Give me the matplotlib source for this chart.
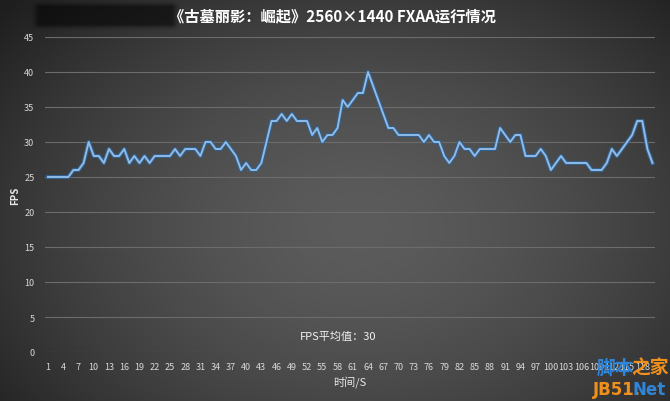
import numpy as np
import matplotlib
matplotlib.use('Agg')
import matplotlib.pyplot as plt
import matplotlib.patheffects as pe

plt.rcParams['font.family'] = ['Noto Sans CJK SC', 'DejaVu Sans']

# ---- data ----
seconds = list(range(1, 121))
fps = [25, 25, 25, 25, 25, 26, 26, 27, 30, 28,
       28, 27, 29, 28, 28, 29, 27, 28, 27, 28,
       27, 28, 28, 28, 28, 29, 28, 29, 29, 29,
       28, 30, 30, 29, 29, 30, 29, 28, 26, 27,
       26, 26, 27, 30, 33, 33, 34, 33, 34, 33,
       33, 33, 31, 32, 30, 31, 31, 32, 36, 35,
       36, 37, 37, 40, 38, 36, 34, 32, 32, 31,
       31, 31, 31, 31, 30, 31, 30, 30, 28, 27,
       28, 30, 29, 29, 28, 29, 29, 29, 29, 32,
       31, 30, 31, 31, 28, 28, 28, 29, 28, 26,
       27, 28, 27, 27, 27, 27, 27, 26, 26, 26,
       27, 29, 28, 29, 30, 31, 33, 33, 29, 27]
y_ticks = [0, 5, 10, 15, 20, 25, 30, 35, 40, 45]
x_tick_labels = [str(s) for s in seconds[::3]]
title = '《古墓丽影：崛起》2560×1440 FXAA运行情况'
avg_label = 'FPS平均值：30'
x_label = '时间/S'
y_label = 'FPS'

W, H = 670, 402
fig = plt.figure(figsize=(W / 100, H / 100), dpi=100)

# ---- background: radial grey gradient ----
bg = fig.add_axes([0, 0, 1, 1], zorder=-10)
yy, xx = np.mgrid[0:H, 0:W]
r = np.sqrt(((xx - 360) / 420.0) ** 2 + ((yy - 230) / 300.0) ** 2)
val = 0.36 - 0.20 * np.clip(r, 0, 1.3) ** 1.6
val = np.clip(val, 0.12, 1)
# blurred dark box at top-left (censored text)
box = np.exp(-(np.maximum(0, np.abs(xx - 105) - 65) / 6.0) ** 2
             - (np.maximum(0, np.abs(yy - 16) - 8) / 4.0) ** 2)
val = val * (1 - 0.55 * box)
img = np.dstack([val, val, val])
bg.imshow(img, aspect='auto', extent=[0, W, H, 0])
bg.set_axis_off()

# ---- main axes ----
ax = fig.add_axes([45.5 / W, 1 - 353 / H, (655 - 45.5) / W, (353 - 38) / H])
ax.set_facecolor('none')
ax.plot(seconds, fps, color='#8fbbe6', linewidth=1.4, zorder=3,
        path_effects=[pe.Stroke(linewidth=3.0, foreground='#33618f'), pe.Normal()])

ax.set_xlim(0.5, 120.5)
ax.set_ylim(0, 45)
ax.set_yticks(y_ticks)
ax.set_xticks(seconds[::3])
ax.set_xticklabels(x_tick_labels)
ax.grid(axis='y', color='#6c6c6c', linewidth=0.8)
ax.set_axisbelow(True)
for s in ax.spines.values():
    s.set_visible(False)
ax.tick_params(axis='both', length=0, colors='#d8d8d8', labelsize=6.5)
ax.tick_params(axis='x', pad=7)
ax.tick_params(axis='y', pad=8)

ax.set_xlabel(x_label, color='#e8e8e8', fontsize=8, labelpad=3)
ax.set_ylabel(y_label, color='#e8e8e8', fontsize=7, fontweight='bold', labelpad=3)

ax.text((338 - 45.5) / (655 - 45.5), (353 - 337) / 315, avg_label,
        transform=ax.transAxes, ha='center', va='center', color='#f2f2f2', fontsize=8)

fig.text(332 / W, 1 - 16 / H, title, ha='center', va='center', color='white',
         fontsize=11, fontweight='bold')

# ---- watermark ----
fig.text(597 / W, 1 - 368 / H, '脚本', color='#2f86d8', fontsize=13.5, fontweight='bold',
         ha='left', va='center', zorder=5)
fig.text(631 / W, 1 - 368 / H, '之家', color='#f0901c', fontsize=13.5, fontweight='bold',
         ha='left', va='center', zorder=5)
fig.text(593 / W, 1 - 390 / H, 'JB51.', color='#f0901c', fontsize=12, fontweight='bold',
         ha='left', va='center', family=['DejaVu Sans'], zorder=5)
fig.text(633 / W, 1 - 390 / H, 'Net', color='#2f86d8', fontsize=12, fontweight='bold',
         ha='left', va='center', family=['DejaVu Sans'], zorder=5)

fig.savefig('out.png', dpi=100)
